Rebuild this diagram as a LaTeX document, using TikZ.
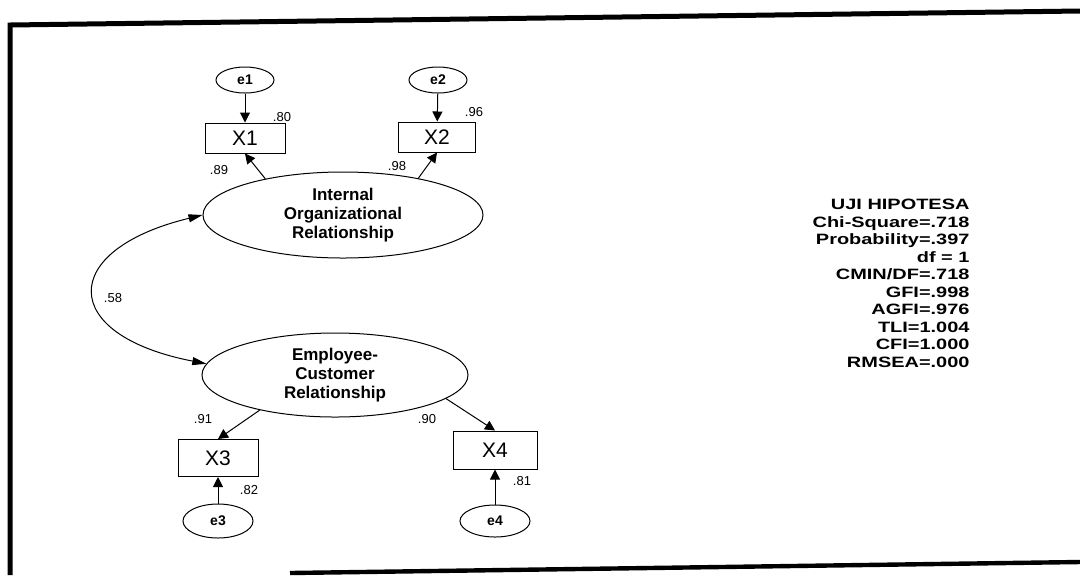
\documentclass[tikz,border=0pt]{standalone}
\usepackage{fontspec}
\setmainfont{Liberation Sans}
\usetikzlibrary{arrows.meta,shapes.geometric}
\begin{document}
\begin{tikzpicture}[x=0.5pt,y=-0.5pt,line width=0.5pt,
        obs/.style={draw,rectangle,minimum width=40pt,minimum height=15pt,
            inner sep=0pt,font=\fontsize{10.5}{12}\selectfont},
        err/.style={draw,ellipse,minimum width=29pt,minimum height=13pt,
            inner sep=0pt,font=\bfseries\fontsize{7}{8}\selectfont},
        lat/.style={draw,ellipse,inner sep=0pt,align=center,
            font=\bfseries\fontsize{8.5}{9.5}\selectfont},
        coef/.style={inner sep=0pt,font=\fontsize{6.5}{7}\selectfont},
        load/.style={-{Triangle[length=5pt,width=5pt]}}]
\useasboundingbox (0,0) rectangle (1080,575);
\draw[line width=2.5pt] (10,575) -- (10,25) -- (1080,11);
\draw[line width=2.2pt] (290,573) -- (1080,562);

\node[lat,minimum width=140pt,minimum height=43pt] (ior) at (343,215) {Internal\\Organizational\\Relationship};
\node[lat,minimum width=133pt,minimum height=42pt] (ecr) at (335,375) {Employee-\\Customer\\Relationship};

\node[obs] (x1) at (245,138) {X1};
\node[obs,minimum width=38.5pt] (x2) at (437,137) {X2};
\node[obs,minimum height=18.5pt] (x3) at (218,458) {X3};
\node[obs,minimum width=42pt,minimum height=19pt] (x4) at (495,450) {X4};

\node[err] (e1) at (245,80) {e1};
\node[err] (e2) at (438,80) {e2};
\node[err,minimum width=35pt,minimum height=17pt] (e3) at (218,521) {e3};
\node[err,minimum width=35pt,minimum height=16pt] (e4) at (495,521) {e4};

\draw[load] (e1) -- (x1);
\draw[load] (e2) -- (x2);
\draw[load] (e3) -- (x3);
\draw[load] (e4) -- (x4);
\draw[load] (ior.155) -- (x1.south);
\draw[load] (ior.26) -- (x2.south);
\draw[load] (ecr.205) -- (x3.north);
\draw[load] (ecr.-12) -- (x4.north);
\draw[{Triangle[length=7pt,width=4pt]}-{Triangle[length=7pt,width=4pt]}]
    (ior.west) .. controls (58,250) and (58,335) .. (ecr.175);

\node[coef] (c80) at (282,117) {.80};
\node[coef] (c96) at (474,112) {.96};
\node[coef] (c89) at (219,170) {.89};
\node[coef] (c98) at (397,166) {.98};
\node[coef] (c58) at (113,298) {.58};
\node[coef] (c91) at (203,419) {.91};
\node[coef] (c90) at (427,419) {.90};
\node[coef] (c82) at (249,490) {.82};
\node[coef] (c81) at (522,481) {.81};

\node[anchor=north east,inner sep=0pt,font=\bfseries\fontsize{7.5}{8.75}\selectfont] (fit) at (970,197)
    {\scalebox{1.33}[1]{\begin{tabular}{@{}r@{}}UJI HIPOTESA\\Chi-Square=.718\\Probability=.397\\df = 1\\CMIN/DF=.718\\GFI=.998\\AGFI=.976\\TLI=1.004\\CFI=1.000\\RMSEA=.000\end{tabular}}};
\end{tikzpicture}
\end{document}
